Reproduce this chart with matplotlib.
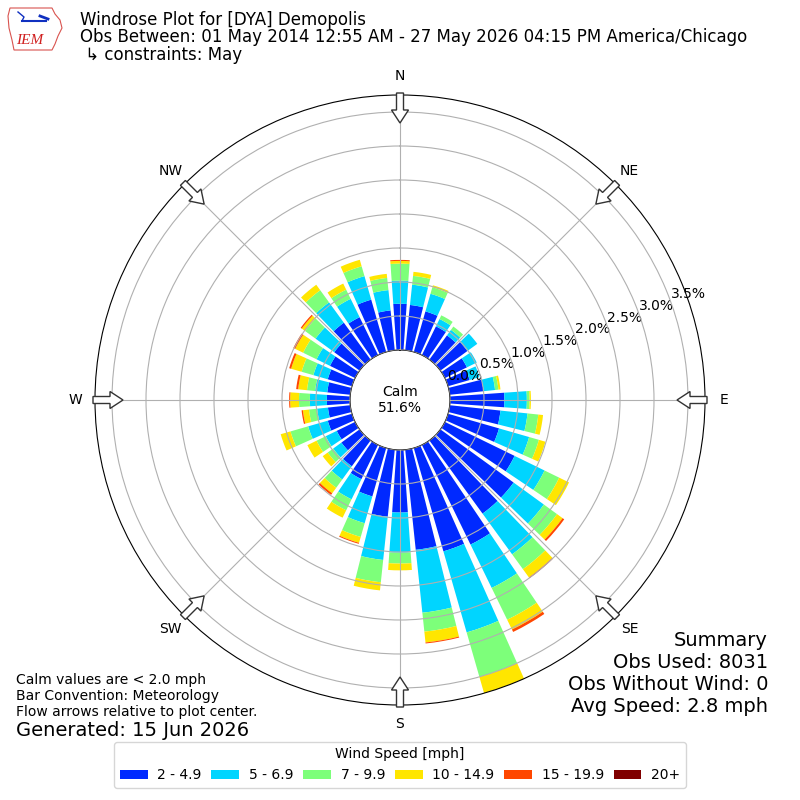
import numpy as np
import matplotlib
matplotlib.use("Agg")
import matplotlib.pyplot as plt
from matplotlib.patches import FancyArrow, Polygon

# direction of bar centres, degrees from north
directions = np.arange(0, 360, 10)
speed_labels = ["2 - 4.9", "5 - 6.9", "7 - 9.9", "10 - 14.9", "15 - 19.9", "20+"]

# percent of all obs, per direction, for each speed bin
pct_2_5 = [0.68, 0.67, 0.62, 0.47, 0.44, 0.49, 0.36, 0.33, 0.50, 0.80,
           0.75, 0.78, 1.14, 1.33, 1.33, 1.63, 1.58, 1.48, 0.92,
           0.99, 0.74, 0.56, 0.47, 0.33, 0.30, 0.37, 0.33, 0.34,
           0.34, 0.37, 0.41, 0.46, 0.67, 0.62, 0.80, 0.59]
pct_5_7 = [0.34, 0.30, 0.27, 0.12, 0.10, 0.18, 0.16, 0.15, 0.17, 0.33,
           0.40, 0.46, 0.49, 0.55, 0.74, 0.71, 1.24, 0.93, 0.59,
           0.64, 0.41, 0.33, 0.24, 0.15, 0.18, 0.30, 0.16, 0.25,
           0.18, 0.22, 0.22, 0.34, 0.37, 0.30, 0.36, 0.30]
pct_7_10 = [0.25, 0.13, 0.10, 0.06, 0.06, 0.00, 0.00, 0.00, 0.05, 0.04,
            0.16, 0.15, 0.24, 0.24, 0.27, 0.52, 0.68, 0.28, 0.16,
            0.33, 0.21, 0.18, 0.15, 0.10, 0.15, 0.27, 0.12, 0.16,
            0.12, 0.18, 0.22, 0.19, 0.22, 0.15, 0.15, 0.18]
pct_10_15 = [0.04, 0.06, 0.03, 0.00, 0.00, 0.00, 0.00, 0.00, 0.03, 0.02,
             0.07, 0.10, 0.16, 0.10, 0.15, 0.16, 0.25, 0.16, 0.10,
             0.12, 0.09, 0.12, 0.10, 0.09, 0.15, 0.15, 0.09, 0.13,
             0.13, 0.16, 0.13, 0.06, 0.10, 0.10, 0.10, 0.06]
pct_15_20 = [0.015, 0, 0, 0, 0, 0, 0, 0, 0, 0,
             0, 0, 0, 0.03, 0.015, 0.04, 0, 0.015, 0,
             0, 0.015, 0, 0.03, 0, 0, 0, 0.02, 0.015,
             0.03, 0.03, 0.03, 0.02, 0, 0, 0, 0]
pct_20_up = [0.0] * 36

calm_pct = 51.6
obs_used = 8031
obs_no_wind = 0
avg_speed = 2.8

compass = ["N", "NE", "E", "SE", "S", "SW", "W", "NW"]
rticks = [0.0, 0.5, 1.0, 1.5, 2.0, 2.5, 3.0, 3.5]

bins = [pct_2_5, pct_5_7, pct_7_10, pct_10_15, pct_15_20, pct_20_up]
colors = plt.cm.jet(np.arange(1, 7) / 6.0)

fig = plt.figure(figsize=(8, 8), dpi=100)

# polar axes: centre (400,400) px, radius 305 px
ax = fig.add_axes([0.11875, 0.11875, 0.7625, 0.7625], projection="polar")
ax.set_theta_zero_location("N")
ax.set_theta_direction(-1)

theta = np.deg2rad(directions)
width = np.deg2rad(8)
bottom = np.zeros(len(directions))
for vals, col, lab in zip(bins, colors, speed_labels):
    vals = np.array(vals)
    ax.bar(theta, vals, width=width, bottom=bottom, color=col, label=lab,
           linewidth=0, zorder=2)
    bottom = bottom + vals

rmax = bottom.max()
ax.set_ylim(0, rmax)
ax.set_rorigin(-50.0 / 255.0 * rmax)
ax.set_yticks(rticks)
ax.set_yticklabels(["%.1f%%" % t for t in rticks], fontsize=10)
ax.set_rlabel_position(70)
ax.set_thetagrids(np.arange(0, 360, 45), compass, fontsize=10)
ax.grid(True, color="#b0b0b0", linewidth=0.8)
ax.set_axisbelow(False)
ax.text(0.5, 0.5, "Calm\n%.1f%%" % calm_pct, transform=ax.transAxes,
        ha="center", va="center", fontsize=10, zorder=5)

# overlay in pixel coords (y down) for arrows and text
ov = fig.add_axes([0, 0, 1, 1])
ov.set_xlim(0, 800)
ov.set_ylim(800, 0)
ov.axis("off")

for ang in np.arange(0, 360, 45):
    a = np.deg2rad(ang)
    ux, uy = np.sin(a), -np.cos(a)
    x0, y0 = 400 + 307 * ux, 400 + 307 * uy
    ov.add_patch(FancyArrow(x0, y0, -30 * ux, -30 * uy, width=7,
                            head_width=17, head_length=13,
                            length_includes_head=True, fc="white",
                            ec="#333333", lw=1, zorder=10))

# rough IEM logo
iowa = [(10, 8), (52, 8), (55, 14), (60, 20), (62, 28), (58, 36), (55, 44),
        (52, 50), (14, 50), (12, 40), (9, 28), (8, 16)]
ov.add_patch(Polygon(iowa, closed=True, fill=False, ec="#d9534f", lw=0.8))
ov.plot([22, 46], [21, 21], color="#1030c0", lw=1.5)
ov.plot([18, 24, 22], [12, 17, 21], color="#1030c0", lw=1)
ov.plot([40, 48], [16, 19], color="#1030c0", lw=2)
ov.text(30, 40, "IEM", color="#d02020", fontsize=11, style="italic",
        family="Liberation Serif", ha="center", va="center")

ov.text(80, 20, "Windrose Plot for [DYA] Demopolis", fontsize=12,
        va="center", ha="left")
ov.text(80, 37.5, "Obs Between: 01 May 2014 12:55 AM - 27 May 2026 04:15 PM America/Chicago",
        fontsize=12, va="center", ha="left")
ov.text(80, 55, " \u21b3 constraints: May", fontsize=12, va="center", ha="left")

ov.text(16, 680, "Calm values are < 2.0 mph", fontsize=10, va="center")
ov.text(16, 696, "Bar Convention: Meteorology", fontsize=10, va="center")
ov.text(16, 712, "Flow arrows relative to plot center.", fontsize=10, va="center")
ov.text(16, 730, "Generated: 15 Jun 2026", fontsize=14, va="center")

summary = ["Summary", "Obs Used: %d" % obs_used,
           "Obs Without Wind: %d" % obs_no_wind,
           "Avg Speed: %.1f mph" % avg_speed]
for i, line in enumerate(summary):
    ov.text(768, 640 + 22 * i, line, fontsize=14, ha="right", va="center")

handles, labels = ax.get_legend_handles_labels()
fig.legend(handles, labels, loc="center", bbox_to_anchor=(0.5, 0.044),
           ncol=6, fontsize=10, title="Wind Speed [mph]", title_fontsize=10,
           columnspacing=0.7, handlelength=2.0, handletextpad=0.7)

fig.savefig("out.png", dpi=100)
